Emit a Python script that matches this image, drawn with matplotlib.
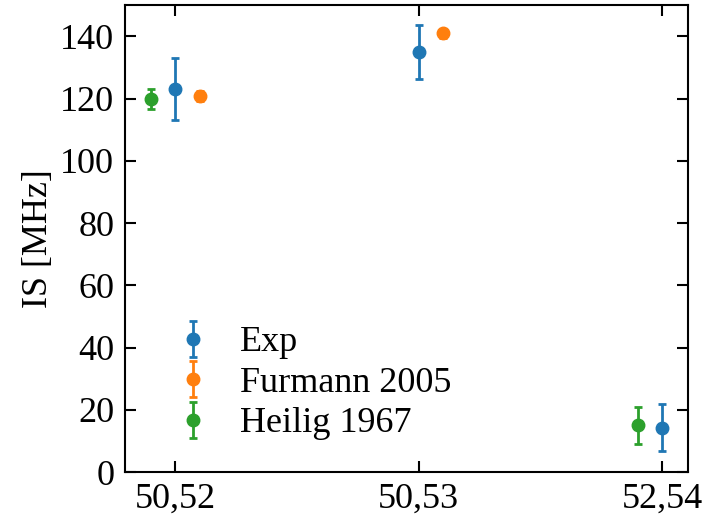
import numpy as np
import matplotlib.pyplot as plt

plt.rcParams['font.family'] = ['Liberation Serif', 'DejaVu Serif']
plt.rcParams['font.size'] = 26

# Дані
pairs = ['50,52', '50,53', '52,54']

exp_x = [0, 1, 2]
exp_y = [123, 135, 14.3]
exp_err = [10, 8.8, 7.5]

furm_x = [0.1, 1.1]
furm_y = [120.8, 141]
furm_err = [1.5, 1.5]

heil_x = [-0.1, 1.9]
heil_y = [119.8, 15]
heil_err = [3.2, 6]

fig = plt.figure(figsize=(7.04, 5.21), dpi=100)
ax = fig.add_axes([0.178, 0.094, 0.799, 0.896])

kw = dict(fmt='o', markersize=9, capsize=3, elinewidth=2, capthick=2)
ax.errorbar(exp_x, exp_y, yerr=exp_err, label='Exp', color='#1f77b4', **kw)
ax.errorbar(furm_x, furm_y, yerr=furm_err, label='Furmann 2005', color='#ff7f0e', **kw)
ax.errorbar(heil_x, heil_y, yerr=heil_err, label='Heilig 1967', color='#2ca02c', **kw)

ax.set_xticks(exp_x)
ax.set_xticklabels(pairs)
ax.set_ylim(0, 150)
ax.set_yticks(np.arange(0, 141, 20))
ax.set_ylabel('IS [MHz]')

ax.tick_params(direction='in', top=True, right=True, length=8, width=1.5, pad=8)
for s in ax.spines.values():
    s.set_linewidth(1.5)

ax.legend(loc='lower left', frameon=False, bbox_to_anchor=(0.03, 0.037),
          handletextpad=0.3, labelspacing=0.2, borderaxespad=0)

fig.savefig('out.png', dpi=100)
